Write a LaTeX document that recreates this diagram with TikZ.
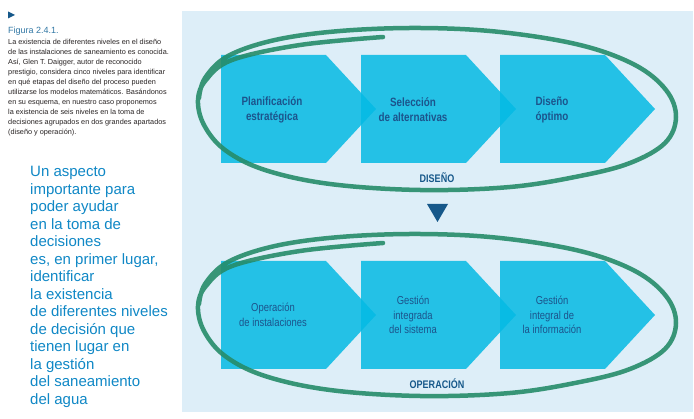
\documentclass[tikz,border=0pt]{standalone}
\usepackage{fontspec}
\setmainfont{Liberation Sans}
\newfontfamily\stagefont[FakeStretch=0.82]{Liberation Sans}
\usetikzlibrary{calc}
\definecolor{panelblue}{RGB}{221,238,248}
\definecolor{stagecyan}{RGB}{4,186,228}
\definecolor{stageblue}{RGB}{28,84,140}
\definecolor{loopgreen}{RGB}{38,140,106}
\definecolor{leadblue}{RGB}{16,136,198}
\definecolor{figblue}{RGB}{50,120,165}
\definecolor{notegray}{RGB}{40,35,35}
\definecolor{arrowblue}{RGB}{22,88,138}

\begin{document}
\begin{tikzpicture}[x=1pt,y=-1pt,
    stage/.style={fill=stagecyan, fill opacity=0.85},
    stagetext/.style={text=stageblue, align=center, inner sep=0pt},
    rowlabel/.style={text=arrowblue, inner sep=0pt, font=\stagefont\bfseries\fontsize{11}{12}\selectfont},
    handloop/.style={draw=loopgreen, line width=4.5pt, draw opacity=0.9, line cap=round, line join=round}]
    % Frame and panel
    \useasboundingbox (0,0) rectangle (694,419);
    \fill[white] (0,0) rectangle (694,419);
    \fill[panelblue] (182,11) rectangle (693,412);
    % Caption
    \fill[arrowblue] (8,11.5) -- (15,15) -- (8,18.5) -- cycle;
    \node[anchor=base west, inner sep=0pt, text=figblue, font=\fontsize{9}{10}\selectfont] (fig) at (8,34) {Figura 2.4.1.};
    \node[anchor=north west, inner sep=0pt, align=left, text=notegray, font=\fontsize{7.3}{10.1}\selectfont] (note) at (8,38.6)
      {La existencia de diferentes niveles en el diseño\\
       de las instalaciones de saneamiento es conocida.\\
       Así, Glen T. Daigger, autor de reconocido\\
       prestigio, considera cinco niveles para identificar\\
       en qué etapas del diseño del proceso pueden\\
       utilizarse los modelos matemáticos. Basándonos\\
       en su esquema, en nuestro caso proponemos\\
       la existencia de seis niveles en la toma de\\
       decisiones agrupados en dos grandes apartados\\
       (diseño y operación).};
    % Lead text
    \node[anchor=north west, inner sep=0pt, align=left, text=leadblue, font=\fontsize{15}{17.5}\selectfont] (lead) at (30,166)
      {Un aspecto\\ importante para\\ poder ayudar\\ en la toma de\\ decisiones\\ es, en primer lugar,\\ identificar\\
       la existencia\\ de diferentes niveles\\ de decisión que\\ tienen lugar en\\ la gestión\\ del saneamiento\\ del agua};
    % Stage arrows, both rows
    \foreach \y in {55,261}
      \foreach \x in {221,361,500}
        \fill[stage] (\x,\y) -- ++(105,0) -- ++(50,54) -- ++(-50,54) -- ++(-105,0) -- cycle;
    % Design row
    \node[stagetext, font=\stagefont\bfseries\fontsize{12}{15}\selectfont] (plan) at (272,110) {Planificación\\estratégica};
    \node[stagetext, font=\stagefont\bfseries\fontsize{12}{15}\selectfont] (selec) at (413,110) {Selección\\de alternativas};
    \node[stagetext, font=\stagefont\bfseries\fontsize{12}{15}\selectfont] (opti) at (552,110) {Diseño\\óptimo};
    \node[rowlabel] (diseno) at (437,178) {DISEÑO};
    % Operation row
    \node[stagetext, font=\stagefont\fontsize{11.5}{14.5}\selectfont] (opera) at (273,315) {Operación\\de instalaciones};
    \node[stagetext, font=\stagefont\fontsize{11.5}{14.5}\selectfont] (gesint) at (413,315) {Gestión\\integrada\\del sistema};
    \node[stagetext, font=\stagefont\fontsize{11.5}{14.5}\selectfont] (gesinf) at (552,315) {Gestión\\integral de\\la información};
    \node[rowlabel] (operacion) at (437,384) {OPERACIÓN};
    % Down marker
    \fill[arrowblue] (427,204) -- (448,204) -- (437.5,222) -- cycle;
    % Hand drawn loops
    \foreach \dy in {0,206}
      \draw[handloop, yshift=-\dy] plot[smooth, tension=0.6] coordinates {
        (383,37) (300,45) (232,60) (206,80) (198,100) (204,125) (225,150) (265,170)
        (330,184) (420,190) (510,187) (580,176) (630,163) (665,143) (676,117)
        (666,90) (635,65) (580,45) (500,32) (420,28) (340,31) (275,40) (228,56)
        (205,78) (199,98)};
\end{tikzpicture}
\end{document}
